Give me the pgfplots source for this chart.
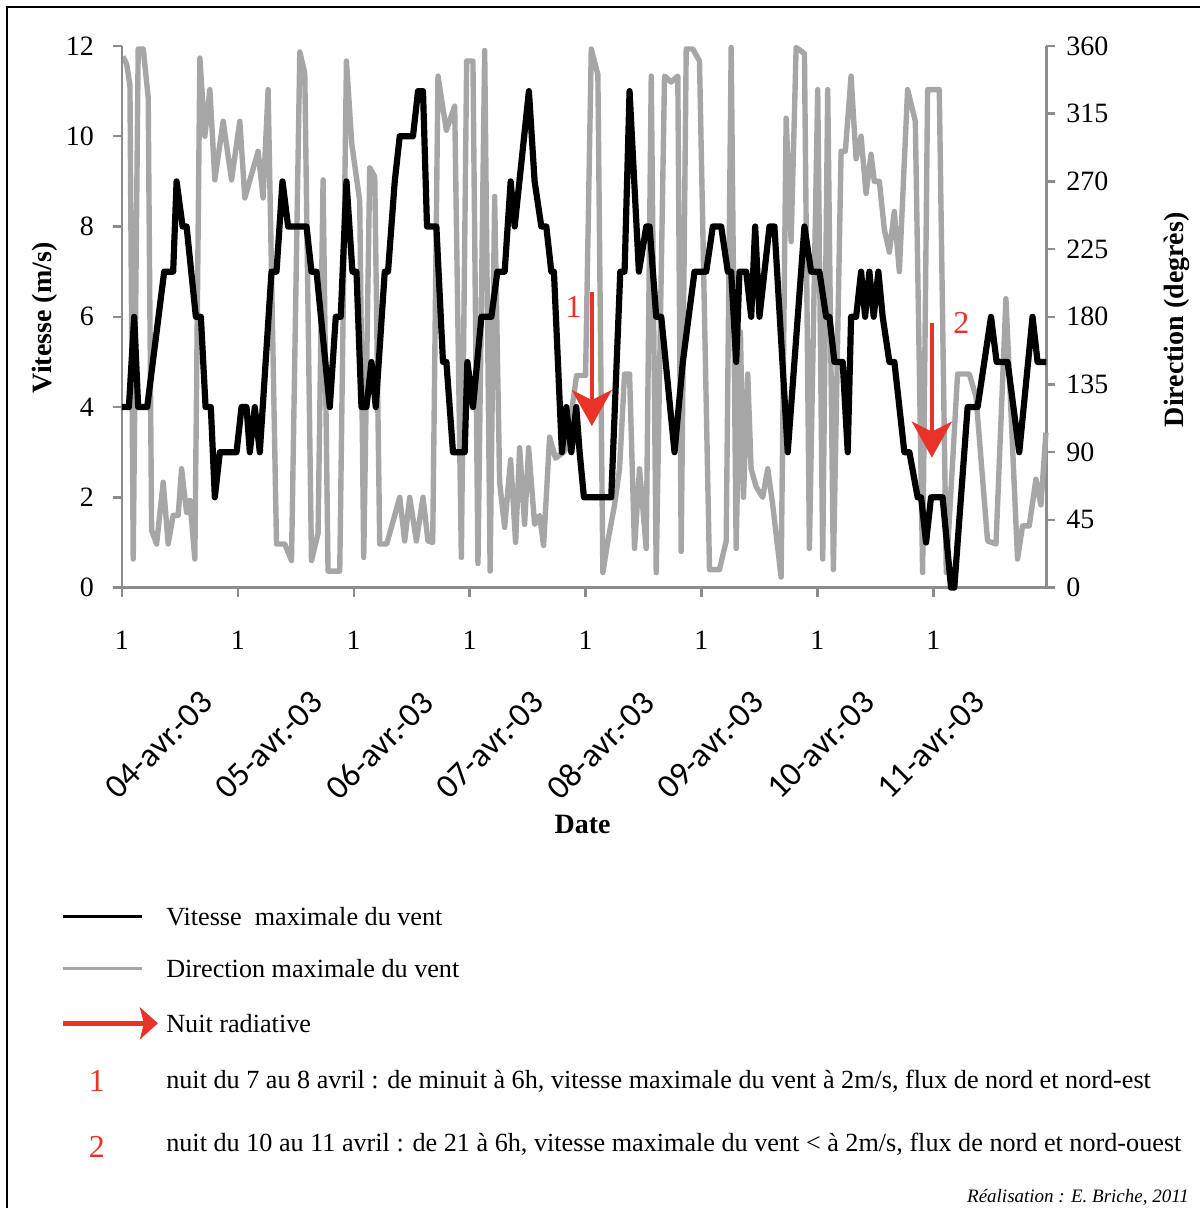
\documentclass[border=0pt]{standalone}
\usepackage{fontspec}
\setmainfont{Liberation Serif}
\newfontfamily\carlito{Carlito}
\usepackage{pgfplots}
\usepackage{pgfplotstable}
\pgfplotsset{compat=1.18}
\usetikzlibrary{arrows.meta}
\definecolor{dirgray}{RGB}{166,166,166}
\definecolor{axgray}{RGB}{140,140,140}
\definecolor{nred}{RGB}{232,52,40}

\pgfplotstableread{
h v
0 4
1.45 4
2.54 6
3.37 4
5.23 4
8.75 7
10.61 7
11.32 9
12.56 8
13.39 8
15.31 6
16.35 6
17.32 4
18.41 4
19.24 2
20.28 3
23.73 3
24.77 4
25.80 4
26.48 3
27.52 4
28.55 3
30.97 7
32.01 7
33.25 9
34.41 8
38.22 8
39.25 7
40.29 7
43.04 4
44.28 6
45.31 6
46.49 9
47.73 7
48.56 7
49.60 4
50.63 4
51.67 5
52.56 4
54.42 7
55.10 7
56.49 9
57.52 10
60.27 10
61.31 11
62.34 11
63.17 8
65.11 8
66.48 5
67.18 5
68.55 3
70.97 3
71.53 5
72.69 4
74.43 6
76.50 6
77.74 7
79.25 7
80.49 9
81.32 8
84.27 11
85.45 9
86.84 8
87.87 8
88.91 7
89.45 7
91.10 3
92.01 4
93.05 3
94.08 4
94.77 3
95.66 2
101.32 2
103.19 7
104.08 7
105.11 11
107.04 7
108.57 8
109.25 8
110.63 6
111.67 6
114.42 3
116.14 5
118.56 7
120.98 7
122.35 8
124.08 8
125.45 7
126.15 7
127.19 5
127.87 7
129.26 7
130.29 6
131.12 8
132.01 6
134.08 8
135.11 8
137.86 3
141.32 8
142.70 7
144.42 7
145.81 6
146.49 6
147.53 5
149.24 5
150.28 3
150.98 6
152.02 6
153.05 7
153.88 6
154.77 7
155.66 6
156.63 7
157.52 6
158.91 5
159.94 5
162.01 3
163.05 3
164.76 2
165.47 2
166.50 1
167.53 2
169.93 2
171.67 0
172.35 0
175.11 4
177.17 4
179.95 6
181.11 5
183.38 5
185.80 3
188.55 6
189.59 5
191.39 5
}\speed

\pgfplotstableread{
h d
0.21 353
0.97 348
1.66 334
2.34 19
3.37 358
4.41 358
5.44 326
6.15 38
7.18 29
8.55 70
9.58 29
10.61 48
11.65 48
12.35 79
13.39 50
14.07 58
15.10 19
16.14 352
17.17 300
18.21 331
19.24 271
20.96 310
22.70 271
24.41 310
25.45 259
28.20 290
29.23 259
30.27 331
32.01 29
33.73 29
35.11 18
36.83 356
37.86 342
39.25 18
40.61 36
41.65 271
42.68 11
45.10 11
46.49 350
47.59 295
49.24 257
50.07 20
51.31 279
52.35 273
53.38 29
54.83 29
57.52 60
58.55 31
59.59 60
60.97 31
62.34 60
63.37 31
64.35 30
65.44 340
67.18 304
68.90 320
70.28 20
71.38 350
72.68 350
73.72 16
75.11 357
76.24 11
77.17 260
78.21 70
79.24 40
80.48 85
81.52 30
82.35 93
83.38 42
84.21 93
85.45 42
86.48 48
87.31 28
88.55 100
89.79 86
91.45 90
92.07 93
94.14 141
96.00 141
97.18 358
98.55 341
99.58 10
100.62 31
102.00 55
103.04 79
104.07 142
105.11 142
106.14 26
107.17 79
108.56 26
109.60 340
110.63 10
112.35 340
113.73 336
115.10 340
115.80 24
116.84 358
118.21 358
119.59 350
121.66 12
123.73 12
125.12 31
126.15 359
127.18 26
128.07 170
128.69 60
129.58 142
130.28 79
131.32 67
132.68 60
133.72 79
134.75 55
136.49 7
137.53 312
138.56 230
139.60 359
141.32 355
142.35 26
144.07 331
145.10 19
146.14 331
147.31 12
148.91 290
149.79 290
150.97 340
152.01 285
153.04 300
154.08 262
155.11 288
155.79 270
156.83 270
157.86 238
158.90 223
159.93 250
160.97 210
162.68 331
164.28 310
165.79 10
166.82 331
169.24 331
170.69 10
173.03 142
175.45 142
176.84 127
179.24 31
180.98 29
183.04 192
185.44 19
186.48 41
187.86 41
189.25 72
190.28 55
191.32 103
}\direction

\begin{document}
\begin{tikzpicture}
\path (0,0) rectangle (600.5pt,-604.5pt);
\draw[line width=0.8pt] (3.5pt,-604.5pt) -- (3.5pt,-3.5pt) -- (600.5pt,-3.5pt);

\pgfplotsset{
  every axis/.append style={
    scale only axis, width=462.5pt, height=271pt,
    xmin=0, xmax=191.4, clip=false,
    at={(61pt,-294pt)}, anchor=south west,
    tick align=outside, major tick length=4.5pt,
    every tick/.style={axgray, line width=1.2pt},
    axis line style={axgray, line width=1.4pt},
    tick label style={font=\fontsize{14}{14}\selectfont, text=black},
    /pgf/number format/assume math mode=true,
  }
}

\begin{axis}[
  ymin=0, ymax=360, ytick={0,45,...,360},
  axis y line*=right, hide x axis,
  yticklabel style={xshift=2pt},
]
\addplot[dirgray, line width=2.7pt, line join=round] table[x=h,y=d]{\direction};
\end{axis}

\begin{axis}[
  ymin=0, ymax=12, ytick={0,2,...,12},
  axis y line*=left, axis x line*=bottom,
  xtick={0,24,...,168}, xticklabels={1,1,1,1,1,1,1,1},
  xticklabel style={yshift=-13.5pt},
  yticklabel style={xshift=-6pt},
]
\addplot[black, line width=3.1pt, line join=round] table[x=h,y=v]{\speed};
\draw[nred, line width=2pt, -{Stealth[length=18pt,width=20pt,inset=5pt]}] (axis cs:97.3,6.55) -- (axis cs:97.3,3.58);
\draw[nred, line width=2pt, -{Stealth[length=18pt,width=20pt,inset=5pt]}] (axis cs:167.7,5.87) -- (axis cs:167.7,2.88);
\end{axis}

% annotations numbers
\node[nred, font=\fontsize{16}{16}\selectfont] at (287pt,-153.5pt) {1};
\node[nred, font=\fontsize{16}{16}\selectfont] at (481pt,-161.5pt) {2};

% axis titles
\node[rotate=90, font=\bfseries\fontsize{14}{14}\selectfont] at (22.5pt,-159pt) {Vitesse (m/s)};
\node[rotate=90, font=\bfseries\fontsize{14}{14}\selectfont] at (589pt,-160pt) {Direction (degrès)};
\node[font=\bfseries\fontsize{14}{14}\selectfont] at (291.5pt,-412.5pt) {Date};

% date labels
\foreach \lab [count=\i from 0] in {04-avr.-03,05-avr.-03,06-avr.-03,07-avr.-03,08-avr.-03,09-avr.-03,10-avr.-03,11-avr.-03}{
  \node[rotate=45, anchor=north east, inner sep=0pt, font=\carlito\fontsize{17}{17}\selectfont] at ({99.5pt+55.2pt*\i},-344.5pt) {\lab};
}

% legend
\draw[black, line width=1.5pt] (31.5pt,-458.5pt) -- (71pt,-458.5pt);
\node[anchor=west, inner sep=0pt, font=\fontsize{13.1}{13.1}\selectfont] at (83pt,-458.5pt) {Vitesse~ maximale du vent};
\draw[dirgray, line width=1.5pt] (31.5pt,-484.5pt) -- (71pt,-484.5pt);
\node[anchor=west, inner sep=0pt, font=\fontsize{13.1}{13.1}\selectfont] at (83pt,-484.5pt) {Direction maximale du vent};
\draw[nred, line width=2.2pt, -{Stealth[length=9pt,width=16pt,inset=2pt]}] (31.5pt,-512pt) -- (79pt,-512pt);
\node[anchor=west, inner sep=0pt, font=\fontsize{13.1}{13.1}\selectfont] at (83pt,-512pt) {Nuit radiative};
\node[nred, font=\fontsize{16}{16}\selectfont] at (48.5pt,-541pt) {1};
\node[anchor=west, inner sep=0pt, font=\fontsize{13.1}{13.1}\selectfont] at (83pt,-541pt) {nuit du 7 au 8 avril : de minuit à 6h, vitesse maximale du vent à 2m/s, flux de nord et nord-est};
\node[nred, font=\fontsize{16}{16}\selectfont] at (48.5pt,-574pt) {2};
\node[anchor=west, inner sep=0pt, font=\fontsize{13.1}{13.1}\selectfont] at (83pt,-572.5pt) {nuit du 10 au 11 avril : de 21 à 6h, vitesse maximale du vent < à 2m/s, flux de nord et nord-ouest};
\node[anchor=east, inner sep=0pt, font=\itshape\fontsize{9.5}{9.5}\selectfont] at (595pt,-599pt) {Réalisation : E. Briche, 2011};
\end{tikzpicture}
\end{document}
